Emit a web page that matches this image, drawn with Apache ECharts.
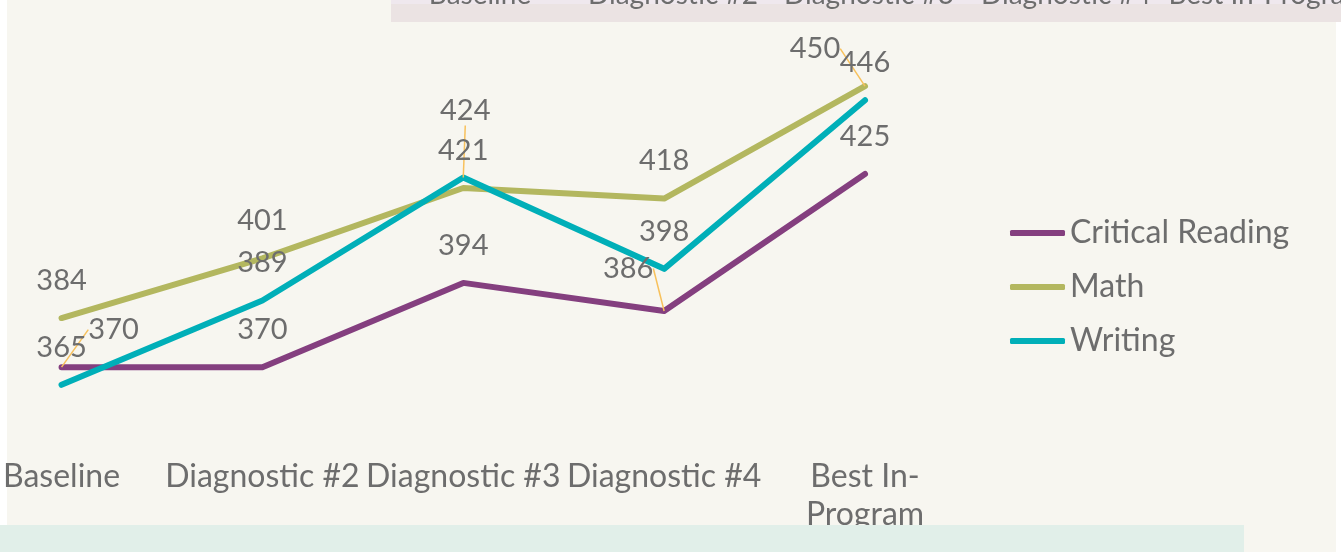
<!DOCTYPE html>
<html>
<head>
<meta charset="utf-8">
<script src="https://cdn.jsdelivr.net/npm/echarts@6/dist/echarts.min.js"></script>
<style>
  html, body { margin: 0; padding: 0; background: #ffffff; }
  #chart { width: 1341px; height: 552px; }
</style>
</head>
<body>
<div id="chart"></div>
<script>
// data
const categories = ["Baseline", "Diagnostic #2", "Diagnostic #3", "Diagnostic #4", "Best In-\nProgram"];
const topBandLabels = ["Baseline", "Diagnostic #2", "Diagnostic #3", "Diagnostic #4", "Best In-Program"];
const criticalReading = [370, 370, 394, 386, 425];
const math = [384, 401, 421, 418, 450];
const writing = [365, 389, 424, 398, 446];

// label nudges where Excel moved labels off their points (dataIndex -> [dx, dy])
const nudges = {
  "Critical Reading": { 0: [52, 0], 3: [-36, -5] },
  "Math": { 4: [-50, 0] },
  "Writing": { 2: [2, -29] }
};

const textColor = "#6d6d6d";
const font = "Lato, 'Open Sans', sans-serif";

const chart = echarts.init(document.getElementById("chart"));

function makeSeries(name, values, color) {
  const moved = nudges[name] || {};
  return {
    name: name,
    type: "line",
    data: values.map(function (v, i) {
      return moved[i] ? { value: v, labelLine: { show: true } } : v;
    }),
    symbol: "circle",
    symbolSize: 0.1,
    showSymbol: true,
    lineStyle: { color: color, width: 6, cap: "round", join: "round" },
    itemStyle: { color: color },
    label: {
      show: true,
      position: "top",
      distance: 23,
      color: textColor,
      fontFamily: font,
      fontSize: 29
    },
    labelLine: {
      show: false,
      lineStyle: { color: "#f8c15c", width: 1.5 }
    },
    labelLayout: function (params) {
      const n = moved[params.dataIndex];
      if (!n) return {};
      return { dx: n[0], dy: n[1] };
    }
  };
}

const graphics = [
  // slide background
  { type: "rect", shape: { x: 7, y: 0, width: 1329, height: 552 }, style: { fill: "#f7f6f0" }, z: 0 },
  // band at the top with cut-off labels
  { type: "rect", shape: { x: 391, y: 0, width: 950, height: 22 }, style: { fill: "#ebe3e3" }, z: 1 },
  { type: "rect", shape: { x: 391, y: 0, width: 950, height: 4 }, style: { fill: "#efe8ee" }, z: 1 },
  // band at the bottom
  { type: "rect", shape: { x: 0, y: 525, width: 1244, height: 27 }, style: { fill: "#e1efe9" }, z: 1 }
];
const topX = [480, 673, 869, 1066, 1268];
topBandLabels.forEach(function (t, i) {
  graphics.push({
    type: "text",
    x: topX[i],
    y: 9,
    z: 2,
    style: {
      text: t,
      fill: textColor,
      font: "28px " + font,
      textAlign: "center",
      textVerticalAlign: "bottom"
    }
  });
});

const option = {
  backgroundColor: "#ffffff",
  animation: false,
  graphic: graphics,
  grid: { left: 58, right: 476, top: 51, bottom: 114.5 },
  legend: {
    orient: "vertical",
    left: 1005,
    top: 210,
    itemGap: 18,
    itemWidth: 55,
    itemHeight: 6,
    icon: "roundRect",
    textStyle: { color: textColor, fontFamily: font, fontSize: 32, lineHeight: 36 },
    data: ["Critical Reading", "Math", "Writing"]
  },
  xAxis: {
    type: "category",
    data: categories,
    boundaryGap: false,
    axisLine: { show: false },
    axisTick: { show: false },
    splitLine: { show: false },
    axisLabel: {
      interval: 0,
      margin: 20,
      color: textColor,
      fontFamily: font,
      fontSize: 32,
      lineHeight: 38
    }
  },
  yAxis: {
    type: "value",
    min: 350,
    max: 460,
    show: false
  },
  series: [
    makeSeries("Critical Reading", criticalReading, "#843f7f"),
    makeSeries("Math", math, "#b3b75f"),
    makeSeries("Writing", writing, "#00afb8")
  ]
};

chart.setOption(option);
</script>
</body>
</html>
